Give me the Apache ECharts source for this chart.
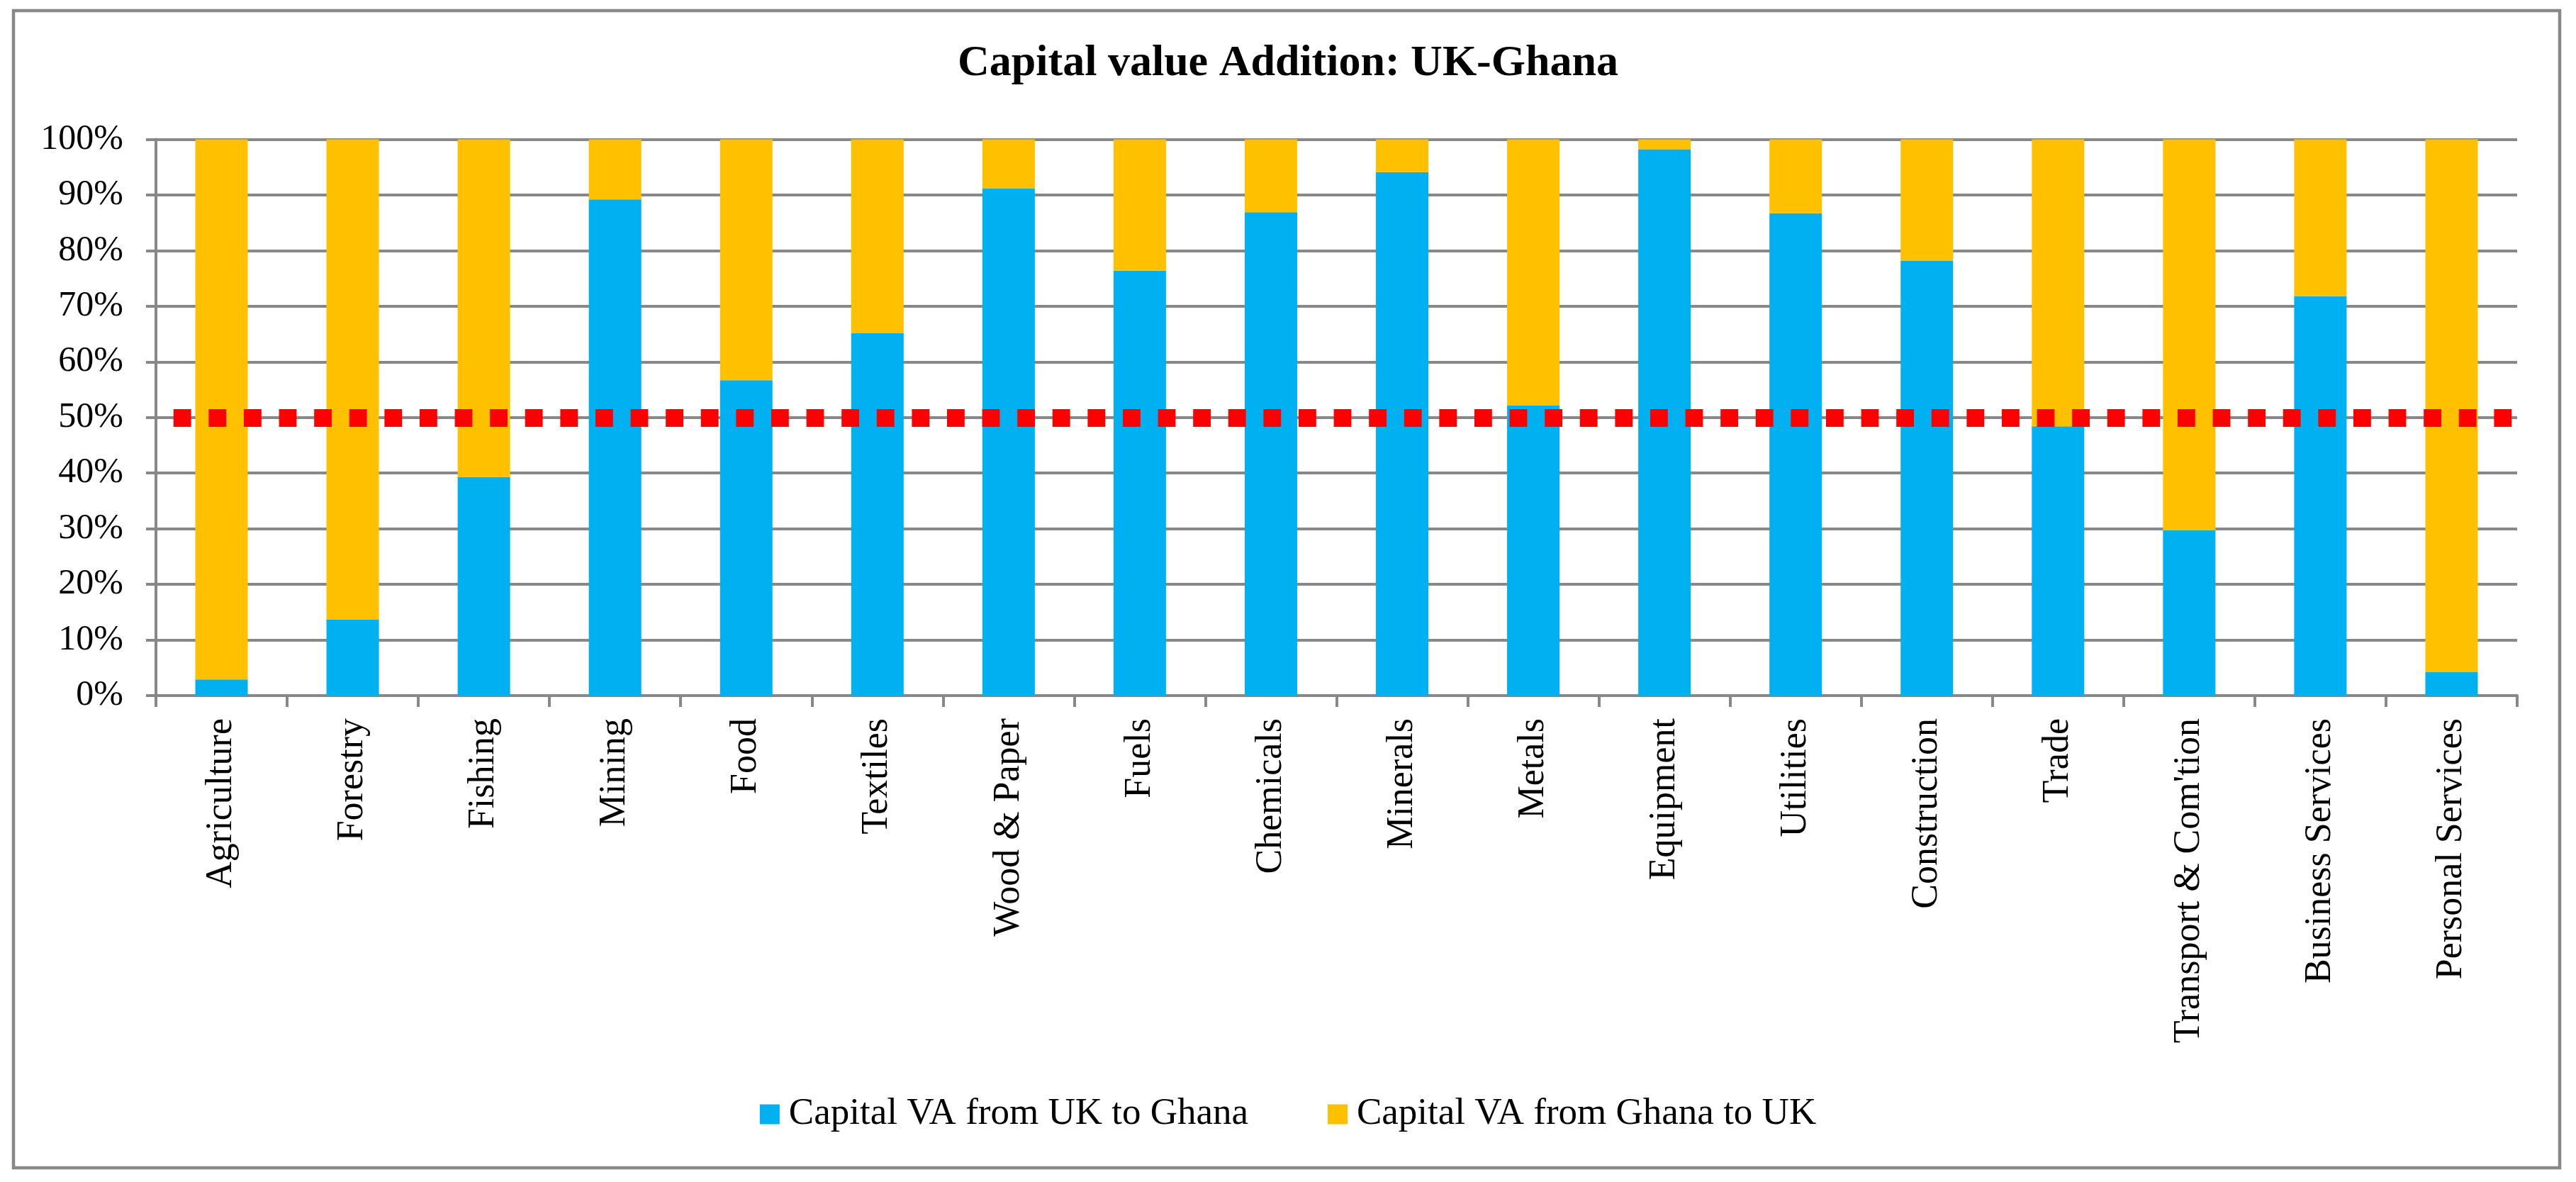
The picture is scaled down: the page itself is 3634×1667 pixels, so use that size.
<!DOCTYPE html>
<html>
<head>
<meta charset="utf-8">
<script src="https://cdn.jsdelivr.net/npm/echarts@6/dist/echarts.min.js"></script>
<style>
html,body{margin:0;padding:0;background:#fff;}
#chart{width:3634px;height:1667px;}
</style>
</head>
<body>
<div id="chart"></div>
<script>
const titleText = 'Capital value Addition: UK-Ghana';
const categories = ['Agriculture','Forestry','Fishing','Mining','Food','Textiles','Wood & Paper','Fuels','Chemicals','Minerals','Metals','Equipment','Utilities','Construction','Trade',"Transport & Com'tion",'Business Services','Personal Services'];
const seriesNames = ['Capital VA from UK to Ghana','Capital VA from Ghana to UK'];
const ukToGhana = [2.9, 13.7, 39.3, 89.2, 56.7, 65.2, 91.2, 76.4, 86.9, 94.1, 52.2, 98.2, 86.7, 78.2, 48.4, 29.7, 71.8, 4.2];
const ghanaToUk = [97.1, 86.3, 60.7, 10.8, 43.3, 34.8, 8.8, 23.6, 13.1, 5.9, 47.8, 1.8, 13.3, 21.8, 51.6, 70.3, 28.2, 95.8];
const referenceLevel = 50;
const yTicks = {min: 0, max: 100, interval: 10};

const FONT = 'Liberation Serif';
const GRAY = '#888888';

const chart = echarts.init(document.getElementById('chart'), null, {renderer: 'canvas'});
chart.setOption({
  backgroundColor: '#ffffff',
  animation: false,
  textStyle: {fontFamily: FONT, color: '#000'},
  graphic: [{
    type: 'rect',
    shape: {x: 19, y: 15, width: 3592, height: 1632},
    style: {fill: 'none', stroke: GRAY, lineWidth: 4.5},
    silent: true
  }],
  title: {
    text: titleText,
    left: 'center',
    top: 54,
    textStyle: {fontFamily: FONT, fontWeight: 'bold', fontSize: 62, color: '#000'}
  },
  legend: {
    data: seriesNames,
    left: 'center',
    top: 1540,
    icon: 'rect',
    itemWidth: 28,
    itemHeight: 28,
    itemGap: 112,
    textStyle: {fontFamily: FONT, fontSize: 53, color: '#000', padding: [0, 0, 0, 8]}
  },
  grid: {left: 220, right: 83, top: 196.5, bottom: 686, containLabel: false},
  xAxis: {
    type: 'category',
    data: categories,
    boundaryGap: true,
    axisLine: {show: true, lineStyle: {color: GRAY, width: 4}},
    axisTick: {show: true, length: 16, lineStyle: {color: GRAY, width: 4}},
    axisLabel: {rotate: 90, interval: 0, margin: 32, fontFamily: FONT, fontSize: 52, color: '#000'},
    splitLine: {show: false}
  },
  yAxis: {
    type: 'value',
    min: yTicks.min,
    max: yTicks.max,
    interval: yTicks.interval,
    axisLine: {show: true, lineStyle: {color: GRAY, width: 4}},
    axisTick: {show: true, length: 14, lineStyle: {color: GRAY, width: 4}},
    axisLabel: {formatter: '{value}%', margin: 46, fontFamily: FONT, fontSize: 50, color: '#000'},
    splitLine: {show: true, lineStyle: {color: GRAY, width: 4}}
  },
  series: [
    {
      name: seriesNames[0],
      type: 'bar',
      stack: 'total',
      barWidth: 74,
      data: ukToGhana,
      itemStyle: {color: '#00B0F0'}
    },
    {
      name: seriesNames[1],
      type: 'bar',
      stack: 'total',
      barWidth: 74,
      data: ghanaToUk,
      itemStyle: {color: '#FFC000'},
      markLine: {
        silent: true,
        symbol: 'none',
        label: {show: false},
        lineStyle: {color: '#FF0000', width: 25, type: [24.8, 24.8], dashOffset: 24.8, cap: 'butt'},
        data: [{yAxis: referenceLevel}]
      }
    }
  ]
});
</script>
</body>
</html>
